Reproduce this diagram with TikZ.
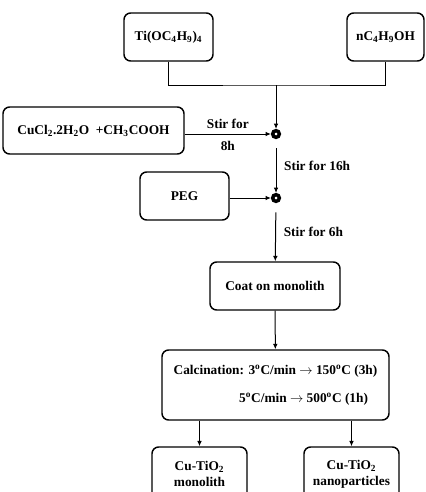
\documentclass[tikz,border=0pt]{standalone}
\usepackage{fontspec}
\setmainfont{Liberation Serif}
\usetikzlibrary{arrows.meta}
\tikzset{
  box/.style={draw, rounded corners=5pt, line width=1.1pt, align=center, inner sep=0pt,
    font=\bfseries\fontsize{10}{12}\selectfont},
  ring/.style={circle, draw, line width=2.6pt, minimum size=5pt, inner sep=0pt},
  flow/.style={line width=0.75pt, -{Latex[length=4pt,width=3.5pt]}},
  lbl/.style={font=\bfseries\fontsize{10}{12}\selectfont, inner sep=0.75pt}
}

\begin{document}
\begin{tikzpicture}[x=0.75pt,y=0.75pt,yscale=-1,xscale=1]
      % synthesis of Cu-TiO2
      \useasboundingbox (0,0) rectangle (425,492);
      \clip (0,0) rectangle (425,492);
      \node[box, minimum width=66.75pt, minimum height=36pt] (ti) at (168.5,37) {Ti(OC\textsubscript{4}H\textsubscript{9})\textsubscript{4}};
      \node[box, minimum width=57.75pt, minimum height=36pt] (nbu) at (385.5,37) {nC\textsubscript{4}H\textsubscript{9}OH};
      \node[box, minimum width=135.75pt, minimum height=35.25pt] (cucl) at (93.5,130.5) {CuCl\textsubscript{2}.2H\textsubscript{2}O\ \ +CH\textsubscript{3}COOH};
      \node[ring] (mix1) at (276,134) {};
      \node[box, minimum width=66.75pt, minimum height=36pt] (peg) at (184.5,196) {PEG};
      \node[ring] (mix2) at (276,198) {};
      \node[box, minimum width=97.5pt, minimum height=36pt] (coat) at (275,286) {Coat on monolith};
      \node[box, minimum width=170.25pt, minimum height=52.5pt, align=right] (calc) at (275.5,385)
        {Calcination: 3\textsuperscript{o}C/min $\rightarrow$ 150\textsuperscript{o}C (3h)\\[9pt]
         5\textsuperscript{o}C/min $\rightarrow$ 500\textsuperscript{o}C (1h)\hspace*{7pt}};
      \node[box, minimum width=71.25pt, minimum height=40.5pt] (mono) at (199.5,474) {Cu-TiO\textsubscript{2}\\monolith};
      \node[box, minimum width=71.25pt, minimum height=40.5pt] (nano) at (351.5,474) {Cu-TiO\textsubscript{2}\\nanoparticles};
      \coordinate (join) at (276,85);

      \draw[line width=0.75pt] (ti.south) |- (join) -| (nbu.south);
      \draw[flow] (join) -- (mix1);
      \draw[flow] (cucl.east |- mix1) -- node[lbl, above=3pt] {Stir for} node[lbl, below=4pt] {8h} (mix1);
      \draw[flow, shorten <=7pt] (mix1) -- node[lbl, right=5pt] {Stir for 16h} (mix2);
      \draw[flow] (peg.east |- mix2) -- (mix2);
      \draw[flow, shorten <=7pt] (mix2) -- node[lbl, right=5pt] {Stir for 6h} (coat);
      \draw[flow] (coat) -- (calc);
      \draw[flow] (calc.south -| mono) -- (mono);
      \draw[flow] (calc.south -| nano) -- (nano);
\end{tikzpicture}
\end{document}
